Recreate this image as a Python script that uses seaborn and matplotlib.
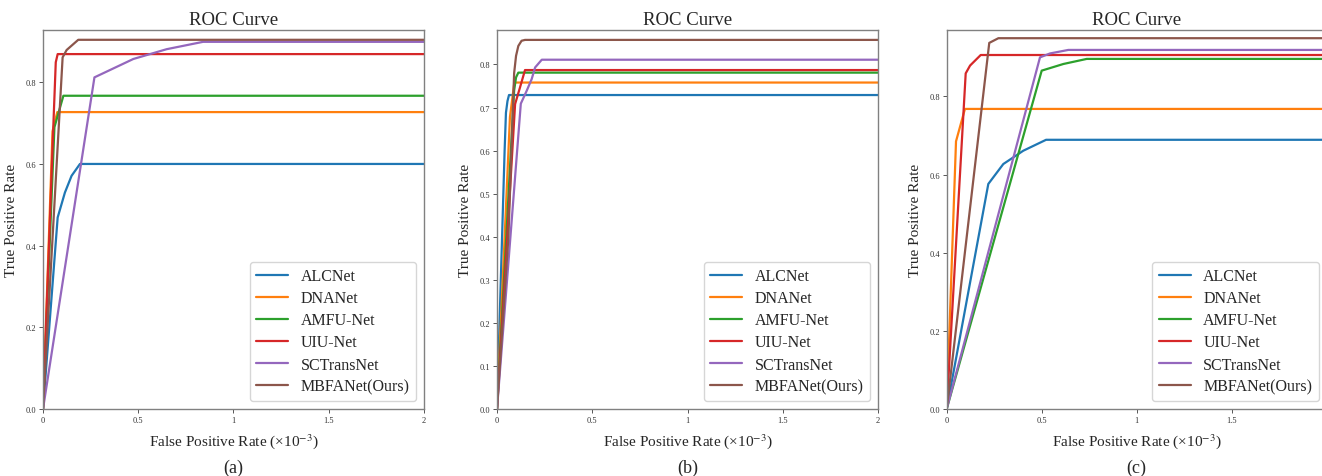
import numpy as np
import pandas as pd
import matplotlib
matplotlib.use("Agg")
import matplotlib.pyplot as plt
import seaborn as sns

models = ["ALCNet", "DNANet", "AMFU-Net", "UIU-Net", "SCTransNet", "MBFANet(Ours)"]
colors = ["#1f77b4", "#ff7f0e", "#2ca02c", "#d62728", "#9467bd", "#8c564b"]

# ---------------- Panel (a) ----------------
a_alcnet_fpr = [0, 0.077, 0.115, 0.15, 0.194, 2.0]
a_alcnet_tpr = [0, 0.469, 0.53, 0.571, 0.600, 0.600]
a_dnanet_fpr = [0, 0.05, 0.075, 2.0]
a_dnanet_tpr = [0, 0.68, 0.727, 0.727]
a_amfu_fpr = [0, 0.06, 0.107, 2.0]
a_amfu_tpr = [0, 0.69, 0.767, 0.767]
a_uiu_fpr = [0, 0.054, 0.067, 0.077, 2.0]
a_uiu_tpr = [0, 0.69, 0.849, 0.869, 0.869]
a_sct_fpr = [0, 0.27, 0.474, 0.649, 0.84, 2.0]
a_sct_tpr = [0, 0.812, 0.857, 0.881, 0.899, 0.899]
a_mbfa_fpr = [0, 0.103, 0.124, 0.185, 2.0]
a_mbfa_tpr = [0, 0.861, 0.879, 0.904, 0.904]

# ---------------- Panel (b) ----------------
b_alcnet_fpr = [0, 0.04, 0.047, 0.055, 0.063, 2.0]
b_alcnet_tpr = [0, 0.60, 0.688, 0.715, 0.729, 0.729]
b_dnanet_fpr = [0, 0.068, 0.091, 2.0]
b_dnanet_tpr = [0, 0.678, 0.758, 0.758]
b_amfu_fpr = [0, 0.09, 0.1, 0.112, 2.0]
b_amfu_tpr = [0, 0.74, 0.77, 0.781, 0.781]
b_uiu_fpr = [0, 0.095, 0.121, 0.147, 2.0]
b_uiu_tpr = [0, 0.708, 0.747, 0.787, 0.787]
b_sct_fpr = [0, 0.125, 0.156, 0.182, 0.2, 0.235, 2.0]
b_sct_tpr = [0, 0.709, 0.739, 0.766, 0.793, 0.811, 0.811]
b_mbfa_fpr = [0, 0.06, 0.09, 0.1, 0.112, 0.129, 0.147, 2.0]
b_mbfa_tpr = [0, 0.40, 0.78, 0.82, 0.843, 0.855, 0.857, 0.857]

# ---------------- Panel (c) ----------------
c_alcnet_fpr = [0, 0.219, 0.298, 0.403, 0.523, 2.0]
c_alcnet_tpr = [0, 0.576, 0.627, 0.661, 0.689, 0.689]
c_dnanet_fpr = [0, 0.049, 0.096, 2.0]
c_dnanet_tpr = [0, 0.685, 0.768, 0.768]
c_amfu_fpr = [0, 0.5, 0.614, 0.737, 2.0]
c_amfu_tpr = [0, 0.866, 0.883, 0.896, 0.896]
c_uiu_fpr = [0, 0.1, 0.123, 0.179, 2.0]
c_uiu_tpr = [0, 0.859, 0.879, 0.906, 0.906]
c_sct_fpr = [0, 0.491, 0.544, 0.64, 2.0]
c_sct_tpr = [0, 0.9, 0.91, 0.919, 0.919]
c_mbfa_fpr = [0, 0.224, 0.272, 2.0]
c_mbfa_tpr = [0, 0.937, 0.949, 0.949]

ab_x_ticks = [0, 0.5, 1, 1.5, 2]
ab_x_ticklabels = ["0", "0.5", "1", "1.5", "2"]
c_x_ticks = [0, 0.5, 1, 1.5]
c_x_ticklabels = ["0", "0.5", "1", "1.5"]
ac_y_ticks = [0.0, 0.2, 0.4, 0.6, 0.8]
ac_y_ticklabels = ["0.0", "0.2", "0.4", "0.6", "0.8"]
b_y_ticks = [0.0, 0.1, 0.2, 0.3, 0.4, 0.5, 0.6, 0.7, 0.8]
b_y_ticklabels = ["0.0", "0.1", "0.2", "0.3", "0.4", "0.5", "0.6", "0.7", "0.8"]
subcaptions = ["(a)", "(b)", "(c)"]

panels = [
    [(a_alcnet_fpr, a_alcnet_tpr), (a_dnanet_fpr, a_dnanet_tpr), (a_amfu_fpr, a_amfu_tpr),
     (a_uiu_fpr, a_uiu_tpr), (a_sct_fpr, a_sct_tpr), (a_mbfa_fpr, a_mbfa_tpr)],
    [(b_alcnet_fpr, b_alcnet_tpr), (b_dnanet_fpr, b_dnanet_tpr), (b_amfu_fpr, b_amfu_tpr),
     (b_uiu_fpr, b_uiu_tpr), (b_sct_fpr, b_sct_tpr), (b_mbfa_fpr, b_mbfa_tpr)],
    [(c_alcnet_fpr, c_alcnet_tpr), (c_dnanet_fpr, c_dnanet_tpr), (c_amfu_fpr, c_amfu_tpr),
     (c_uiu_fpr, c_uiu_tpr), (c_sct_fpr, c_sct_tpr), (c_mbfa_fpr, c_mbfa_tpr)],
]

sns.set_theme(style="ticks")
plt.rcParams["font.family"] = ["Liberation Serif", "DejaVu Serif"]
plt.rcParams["mathtext.fontset"] = "stix"

W, H = 1322, 477
fig = plt.figure(figsize=(W / 100, H / 100), dpi=100)

ax_px = [(43, 424), (497, 878), (946.7, 1326.7)]
top_px, bot_px = 31, 410
ylims = [0.928, 0.880, 0.970]

for i, (l, r) in enumerate(ax_px):
    ax = fig.add_axes([l / W, 1 - bot_px / H, (r - l) / W, (bot_px - top_px) / H])
    rows = []
    for m, (fx, ty) in zip(models, panels[i]):
        for x, y in zip(fx, ty):
            rows.append({"fpr": x, "tpr": y, "model": m})
    df = pd.DataFrame(rows)
    sns.lineplot(data=df, x="fpr", y="tpr", hue="model", hue_order=models,
                 palette=colors, sort=False, estimator=None, linewidth=1.6, ax=ax)
    ax.set_xlim(0, 2)
    ax.set_ylim(0, ylims[i])
    if i == 2:
        ax.set_xticks(c_x_ticks)
        ax.set_xticklabels(c_x_ticklabels)
    else:
        ax.set_xticks(ab_x_ticks)
        ax.set_xticklabels(ab_x_ticklabels)
    if i == 1:
        ax.set_yticks(b_y_ticks)
        ax.set_yticklabels(b_y_ticklabels)
    else:
        ax.set_yticks(ac_y_ticks)
        ax.set_yticklabels(ac_y_ticklabels)
    ax.tick_params(labelsize=6, length=3, width=0.7, colors="#555555", labelcolor="#333333", pad=2)
    for s in ax.spines.values():
        s.set_color("#808080")
        s.set_linewidth(1.0)
    if i == 2:
        ax.spines["right"].set_visible(False)
    ax.set_title("ROC Curve", fontsize=13.5, pad=4)
    ax.set_xlabel("False Positive Rate (×10$^{-3}$)", fontsize=11, labelpad=5)
    ax.set_ylabel("True Positive Rate", fontsize=11, labelpad=5)
    leg = ax.legend(loc="lower right", fontsize=11.5, handlelength=2.0, labelspacing=0.38,
                    frameon=True)
    for ln in leg.get_lines():
        ln.set_linewidth(1.6)
    fig.text(((l + r) / 2) / W, 1 - 468 / H, subcaptions[i], ha="center", va="center", fontsize=13)

fig.savefig("out.png", dpi=100)
